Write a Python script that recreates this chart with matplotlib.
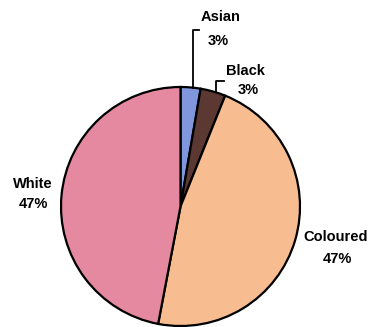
import matplotlib
matplotlib.use("Agg")
import matplotlib.pyplot as plt

# 数据：各族群比例
groups = ["Asian", "Black", "Coloured", "White"]
shares = [2.7, 3.4, 46.9, 47.0]
colors = ["#8197dd", "#5b3831", "#f7bc90", "#e4899f"]

plt.rcParams["font.family"] = ["Liberation Sans", "DejaVu Sans"]

W, H = 369, 327
fig = plt.figure(figsize=(W / 100, H / 100), dpi=100)
ax = fig.add_axes([0, 0, 1, 1])

# 饼图：从正上方开始顺时针
cx, cy, r = 180.5, H - 206.5, 119.5
ax.pie(shares, colors=colors, startangle=90, counterclock=False,
       center=(cx, cy), radius=r,
       wedgeprops=dict(edgecolor="black", linewidth=1.6))
ax.set_xlim(0, W)
ax.set_ylim(0, H)
ax.set_aspect("equal")
ax.axis("off")

# 标签位置（图像像素坐标，y 向下）：名称 x/y，百分比 x/y
label_pos = {
    "Asian": (221, 17, 218, 41),
    "Black": (245, 71, 248, 90),
    "Coloured": (336, 237, 337, 259),
    "White": (33, 184, 33, 204),
}
for g, s in zip(groups, shares):
    x1, y1, x2, y2 = label_pos[g]
    ax.text(x1, H - y1, g, ha="center", va="center", fontsize=10.5, fontweight="bold")
    ax.text(x2, H - y2, f"{round(s)}%", ha="center", va="center",
            fontsize=10.5, fontweight="bold")

# 引线
ax.plot([193, 193, 199], [H - 88, H - 30, H - 30], color="black", lw=1.3)
ax.plot([216, 216, 224], [H - 91, H - 81, H - 81], color="black", lw=1.3)

fig.savefig("out.png", dpi=100)
